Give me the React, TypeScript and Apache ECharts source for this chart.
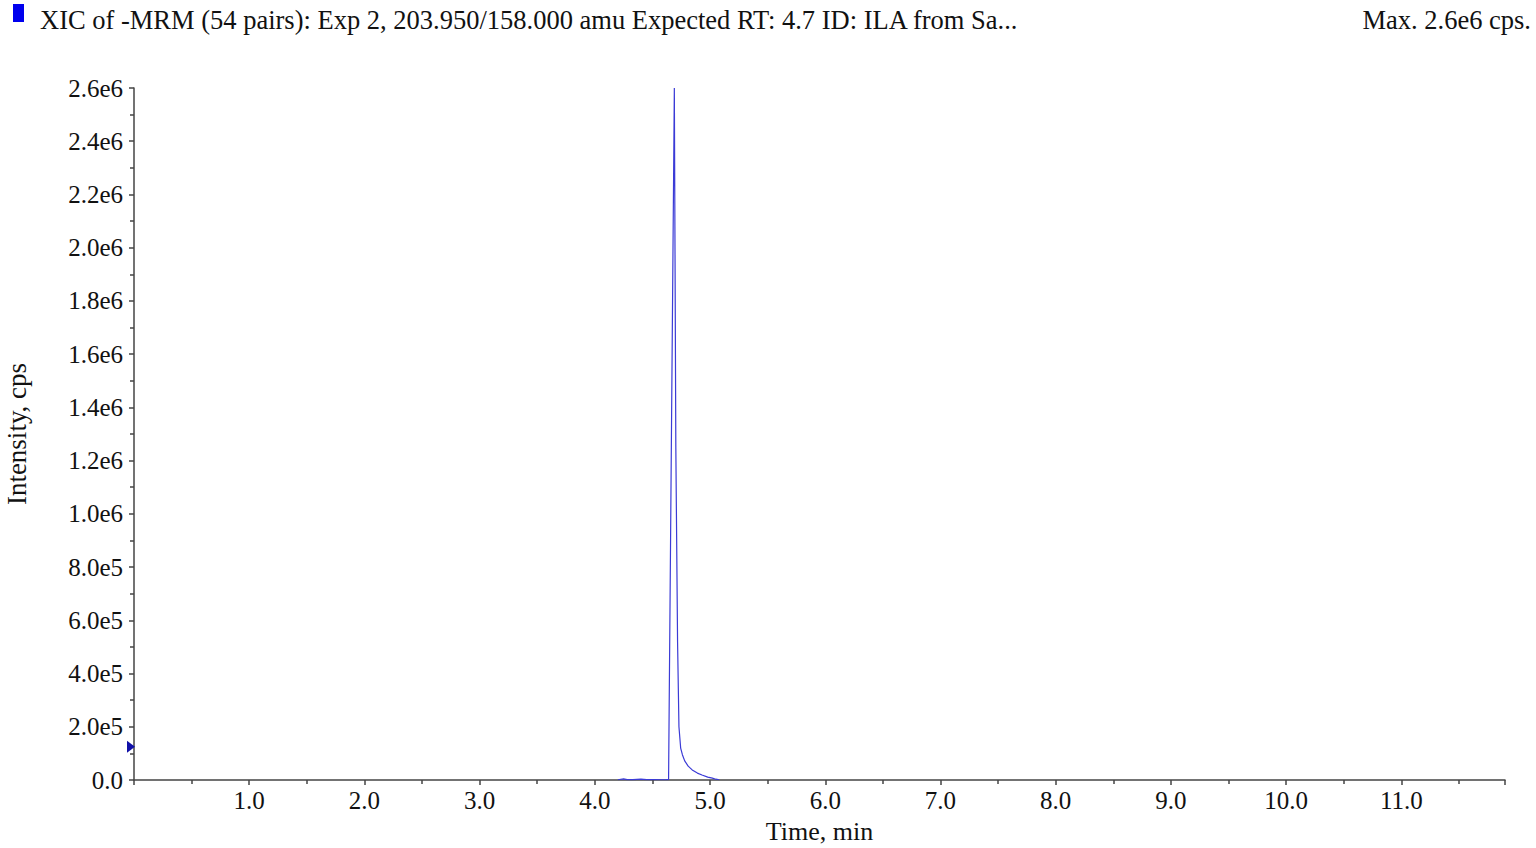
import React, { useEffect, useRef } from "react";
import * as echarts from "echarts";

const titleText = "XIC of -MRM (54 pairs): Exp 2, 203.950/158.000 amu Expected RT: 4.7 ID: ILA from Sa...";
const maxText = "Max. 2.6e6 cps.";
const xAxisName = "Time, min";
const yAxisName = "Intensity, cps";

const times = [4.2, 4.25, 4.28, 4.33, 4.4, 4.45, 4.52, 4.58, 4.62, 4.64, 4.69, 4.703, 4.718, 4.73, 4.745, 4.76, 4.78, 4.81, 4.845, 4.89, 4.93, 4.98, 5.02, 5.05, 5.08];
const intensity = [1000, 4000, 1500, 1200, 3500, 1500, 1200, 1000, 1300, 1500, 2600000, 1250000, 520000, 200000, 120000, 95000, 72000, 52000, 38000, 26000, 19000, 11000, 7000, 3000, 1000];

const thresholdValue = [[0, 125000]];

const FONT = "'Liberation Serif', 'Times New Roman', serif";

export default function App() {
  const ref = useRef<HTMLDivElement>(null);
  useEffect(() => {
    if (!ref.current) return;
    const chart = echarts.init(ref.current, undefined, { renderer: "svg" });
    const data = times.map((t, i) => [t, intensity[i]]);
    chart.setOption({
      animation: false,
      backgroundColor: "#ffffff",
      grid: { left: 134, right: 31, top: 88, bottom: 68, containLabel: false, outerBoundsMode: "none" },
      graphic: [
        { type: "rect", shape: { x: 13, y: 4, width: 11, height: 18 }, style: { fill: "#0000ee" } },
        {
          type: "text",
          x: 40,
          y: 20,
          style: { text: titleText, font: `26.5px ${FONT}`, fill: "#111", verticalAlign: "middle", align: "left" },
        },
        {
          type: "text",
          x: 1531,
          y: 20,
          style: { text: maxText, font: `26.5px ${FONT}`, fill: "#111", verticalAlign: "middle", align: "right" },
        },
      ],
      xAxis: {
        type: "value",
        min: 0,
        max: 11.9,
        interval: 1,
        name: xAxisName,
        nameLocation: "middle",
        nameGap: 38,
        nameTextStyle: { fontFamily: FONT, fontSize: 26, color: "#111" },
        axisLine: { lineStyle: { color: "#444", width: 1.5 } },
        axisTick: { show: true, length: 5, lineStyle: { color: "#444", width: 1.5 } },
        minorTick: { show: true, splitNumber: 2, length: 4, lineStyle: { color: "#444", width: 1.5 } },
        splitLine: { show: false },
        axisLabel: {
          fontFamily: FONT,
          fontSize: 25,
          color: "#111",
          margin: 8,
          formatter: (v: number) => (v === 0 || Math.abs(v - Math.round(v)) > 1e-6 ? "" : v.toFixed(1)),
        },
      },
      yAxis: {
        type: "value",
        min: 0,
        max: 2600000,
        interval: 200000,
        name: yAxisName,
        nameLocation: "middle",
        nameGap: 104,
        nameTextStyle: { fontFamily: FONT, fontSize: 27, color: "#111" },
        axisLine: { show: true, lineStyle: { color: "#444", width: 1.5 } },
        axisTick: { show: true, length: 5, lineStyle: { color: "#444", width: 1.5 } },
        minorTick: { show: true, splitNumber: 2, length: 4, lineStyle: { color: "#444", width: 1.5 } },
        splitLine: { show: false },
        axisLabel: {
          fontFamily: FONT,
          fontSize: 25,
          color: "#111",
          margin: 11,
          formatter: (v: number) => (v === 0 ? "0.0" : v.toExponential(1).replace("+", "")),
        },
      },
      series: [
        {
          type: "line",
          data,
          symbol: "none",
          lineStyle: { color: "#3b3bd6", width: 1.2 },
          z: 3,
        },
        {
          type: "scatter",
          data: thresholdValue,
          symbol: "triangle",
          symbolSize: [12, 8],
          symbolRotate: -90,
          symbolOffset: [-3, 0],
          itemStyle: { color: "#1010a8", opacity: 1 },
          clip: false,
          z: 4,
        },
      ],
    });
    return () => chart.dispose();
  }, []);
  return <div ref={ref} style={{ width: 1536, height: 848, position: "absolute", left: 0, top: 0 }} />;
}
